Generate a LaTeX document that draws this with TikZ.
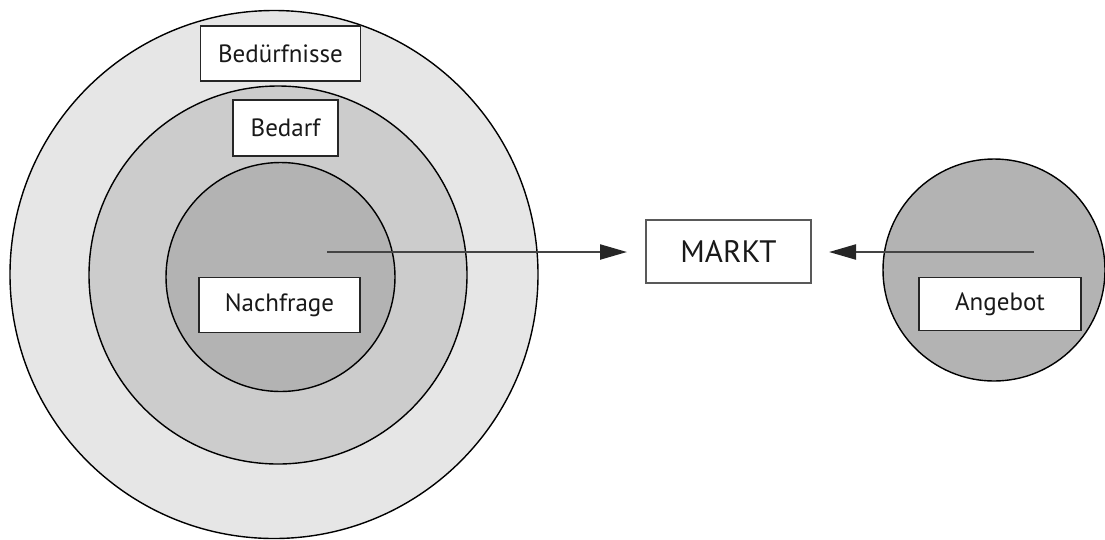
\documentclass[tikz,border=0pt]{standalone}
\usepackage{fontspec}
\setmainfont{PT Sans}
\usetikzlibrary{arrows.meta}
\definecolor{ringA}{HTML}{E6E6E6}
\definecolor{ringB}{HTML}{CCCCCC}
\definecolor{ringC}{HTML}{B3B3B3}
\definecolor{arrowgray}{HTML}{444444}
\tikzset{
  ring/.style={circle, draw=black, line width=1.4pt, inner sep=0pt},
  label box/.style={draw=black!85, line width=1.5pt, fill=white, inner sep=0pt,
    font=\fontsize{25}{29}\selectfont, text=black!90},
  flow/.style={draw=arrowgray, line width=2.2pt,
    -{Triangle[length=27pt,width=15pt,color=black!85]}}
}
\begin{document}
\begin{tikzpicture}[x=1pt,y=-1pt]
\useasboundingbox (0,0) rectangle (1105,539);
% circles
\node[ring, fill=ringA, minimum size=528pt] (outer) at (274,274.5) {};
\node[ring, fill=ringB, minimum size=378pt] (middle) at (278,275) {};
\node[ring, fill=ringC, minimum size=229pt] (inner) at (280.5,277) {};
\node[ring, fill=ringC, minimum size=222pt] (supply) at (994,270) {};
% boxes
\node[label box, minimum width=160pt, minimum height=55pt] (beduerfnisse) at (280.5,53.5) {Bedürfnisse};
\node[label box, minimum width=105pt, minimum height=56pt] (bedarf) at (285.5,128) {Bedarf};
\node[label box, minimum width=161pt, minimum height=55pt] (nachfrage) at (279.5,305) {Nachfrage};
\node[label box, minimum width=162pt, minimum height=53pt] (angebot) at (1000,304) {Angebot};
\node[label box, draw=black!65, line width=1.9pt, minimum width=165pt, minimum height=63pt,
  font=\fontsize{31}{36}\selectfont] (markt) at (728.5,251.5) {MARKT};
% arrow ends
\coordinate (demandstart) at (327,252);
\coordinate (supplystart) at (1034,252);
\coordinate (demandtip) at (627,252);
\coordinate (supplytip) at (829,252);
\draw[flow] (demandstart) -- (demandtip);
\draw[flow] (supplystart) -- (supplytip);
\end{tikzpicture}
\end{document}
